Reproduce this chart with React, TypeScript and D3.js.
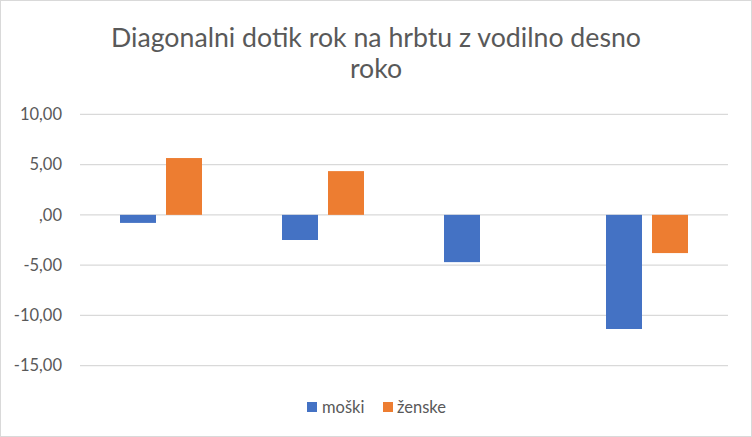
import React from "react";
import * as d3 from "d3";

const categories = ["1", "2", "3", "4"];
const seriesNames = ["moški", "ženske"];
const moski = [-0.8, -2.5, -4.7, -11.35];
const zenske: (number | null)[] = [5.65, 4.35, null, -3.8];
const yTicks = [-15, -10, -5, 0, 5, 10];
const titleLines = ["Diagonalni dotik rok na hrbtu z vodilno desno", "roko"];

const colors = ["#4472C4", "#ED7D31"];

export default function App() {
  const W = 752, H = 437;
  const left = 80, right = 728, top = 114.3, bottom = 365.7;
  const y = d3.scaleLinear().domain([-15, 10]).range([bottom, top]);
  const x = d3.scaleBand().domain(categories).range([left, right]).paddingInner(0).paddingOuter(0);
  const bw = 36, gap = 10;
  const series = [moski, zenske];
  const fmt = (v: number) => {
    const s = Math.abs(v).toFixed(2).replace(".", ",");
    const t = s.startsWith("0,") ? s.slice(1) : s;
    return (v < 0 ? "-" : "") + t;
  };
  const font = "Lato, 'Open Sans', sans-serif";
  return (
    <svg width={W} height={H} style={{ position: "absolute", left: 0, top: 0 }} fontFamily={font}>
      <rect x={0.5} y={0.5} width={W - 1} height={H - 1} fill="#fff" stroke="#d9d9d9" />
      {titleLines.map((t, i) => (
        <text key={i} x={376} y={47 + i * 31} textAnchor="middle" fontSize={26.7} fill="#595959">{t}</text>
      ))}
      {yTicks.map((t) => (
        <g key={t}>
          <line x1={left} x2={right} y1={y(t)} y2={y(t)} stroke="#d9d9d9" strokeWidth={1.3} />
          <text x={62} y={y(t)} dy="0.35em" textAnchor="end" fontSize={16.5} fill="#595959">{fmt(t)}</text>
        </g>
      ))}
      {categories.map((c, ci) => {
        const cx = (x(c) as number) + x.bandwidth() / 2;
        return series.map((s, si) => {
          const v = s[ci];
          if (v === null || v === undefined) return null;
          const bx = cx - bw - gap / 2 + si * (bw + gap);
          const y0 = y(0), y1 = y(v);
          return (
            <rect key={ci + "-" + si} x={bx} y={Math.min(y0, y1)} width={bw} height={Math.abs(y1 - y0)} fill={colors[si]} />
          );
        });
      })}
      <g>
        <rect x={307} y={402} width={10} height={10} fill={colors[0]} />
        <text x={322} y={407} dy="0.35em" fontSize={16.5} fill="#595959">{seriesNames[0]}</text>
        <rect x={383} y={402} width={10} height={10} fill={colors[1]} />
        <text x={397} y={407} dy="0.35em" fontSize={16.5} fill="#595959">{seriesNames[1]}</text>
      </g>
    </svg>
  );
}
